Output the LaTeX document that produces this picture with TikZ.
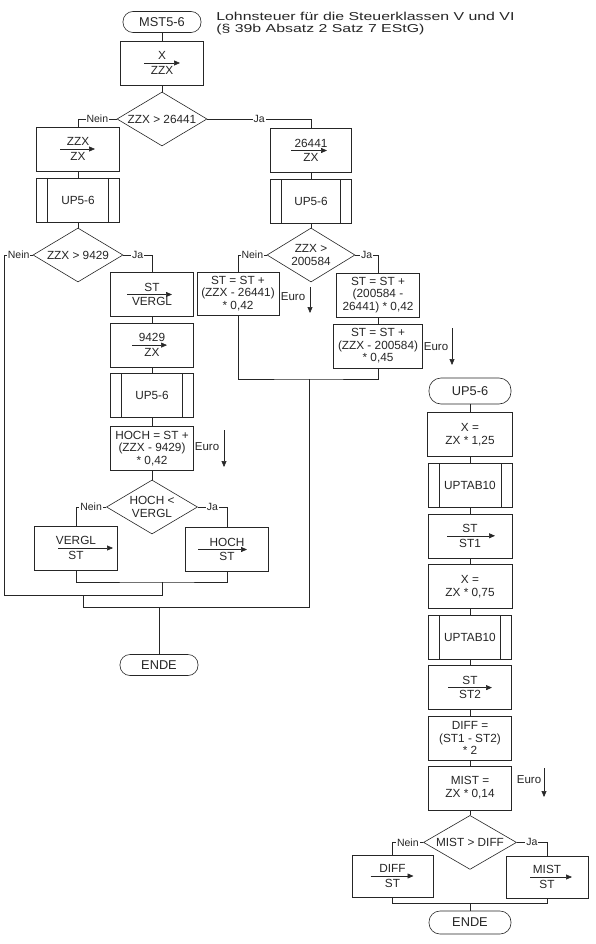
\documentclass[tikz,border=0pt]{standalone}
\usepackage{fontspec}
\setmainfont{Liberation Sans}
\newfontfamily\titlefont[FakeStretch=1.38]{Liberation Sans}
\usetikzlibrary{shapes.geometric, arrows.meta, positioning, calc}

\newcommand{\bxfont}{\fontsize{11.8}{12.6}\selectfont}

\begin{document}
\begin{tikzpicture}[
  x=1pt, y=-1pt, line width=0.6pt, color=black!85,
  term/.style={draw, rounded corners=10pt, minimum width=78pt, minimum height=21pt, inner sep=1pt, font=\fontsize{12.8}{14}\selectfont},
  proc/.style={draw, align=center, minimum width=83pt, minimum height=44pt, inner sep=2pt, font=\bxfont},
  sub/.style={proc, path picture={\draw ([xshift=11pt]path picture bounding box.north west) -- ([xshift=11pt]path picture bounding box.south west) ([xshift=-11pt]path picture bounding box.north east) -- ([xshift=-11pt]path picture bounding box.south east);}},
  assign/.style 2 args={proc, font=\fontsize{11.8}{14.5}\selectfont, path picture={\draw[-{Triangle[length=6pt,width=5pt]}] ([xshift=#1pt]path picture bounding box.center) -- ([xshift=#2pt]path picture bounding box.center);}},
  dec/.style={diamond, draw, aspect=1.67, minimum width=90pt, minimum height=54pt, inner sep=0pt, align=center, font=\bxfont},
  lbl/.style={fill=white, inner sep=1pt, font=\fontsize{10.5}{12}\selectfont},
  note/.style={inner sep=0pt, font=\fontsize{11.5}{13}\selectfont},
  euro/.style={-{Triangle[length=6pt,width=5pt]}}
]
  \path[fill=white] (0,0) rectangle (596,944);

  % main program
  \node[term] (start) at (162,22) {MST5-6};
  \node[anchor=north west, align=left, inner sep=0pt, font=\titlefont\fontsize{11.5}{11.8}\selectfont] (title) at (216,12) {Lohnsteuer für die Steuerklassen V und VI\\(§ 39b Absatz 2 Satz 7 EStG)};
  \node[assign={-18}{18}] (x1) at (162,63) {X\\ZZX};
  \node[dec] (d1) at (162,119) {ZZX > 26441};

  \node[assign={-18}{17}] (zzx) at (78,149) {ZZX\\ZX};
  \node[sub] (up1) at (78,200) {UP5-6};
  \node[dec] (d2) at (78,255) {ZZX > 9429};
  \node[assign={-25}{20}] (stv) at (152,294.5) {ST\\VERGL};
  \node[assign={-20}{15}, below=6pt of stv] (n9429) {9429\\ZX};
  \node[sub, below=6pt of n9429] (up2) {UP5-6};
  \node[proc, below=8pt of up2] (hoch) {HOCH = ST +\\(ZZX - 9429)\\* 0,42};
  \node[note] (eu1) at (207,447) {Euro};
  \coordinate (eu1a) at (224,430);
  \coordinate (eu1b) at (224,467);
  \node[dec, minimum width=91pt] (d3) at (152,507) {HOCH <\\VERGL};
  \node[assign={-18}{37}] (vst) at (76,548) {VERGL\\ST};
  \node[assign={-29}{20}] (hst) at (227,549.5) {HOCH\\ST};

  \node[assign={-20}{16}, minimum width=81pt] (r26441) at (311,150.5) {26441\\ZX};
  \node[sub, minimum width=81pt] (up3) at (311,201.5) {UP5-6};
  \node[dec, minimum width=88pt] (d4) at (311,255) {ZZX >\\200584};
  \node[proc, minimum width=82pt, minimum height=43pt] (stl) at (238,293.5) {ST = ST +\\(ZZX - 26441)\\* 0,42};
  \node[note] (eu2) at (293,297) {Euro};
  \coordinate (eu2a) at (310,287);
  \coordinate (eu2b) at (310,313);
  \node[proc] (str1) at (378,295) {ST = ST +\\(200584 -\\26441) * 0,42};
  \node[proc, minimum width=89pt] (str2) at (378,346) {ST = ST +\\(ZZX - 200584)\\* 0,45};
  \node[note] (eu3) at (436,347) {Euro};
  \coordinate (eu3a) at (452,328);
  \coordinate (eu3b) at (452,365);

  \node[term] (end1) at (159,665) {ENDE};

  \coordinate (j3) at (162,582);
  \coordinate (j2) at (83,595);
  \coordinate (j1) at (159,607);
  \coordinate (jr) at (309,379);

  % subroutine UP5-6
  \node[term, minimum width=82pt, minimum height=26pt, rounded corners=12pt] (up56) at (470,391) {UP5-6};
  \node[proc, minimum width=85pt, below=8pt of up56] (r1) {X =\\ZX * 1,25};
  \node[sub, minimum width=84pt, below=6pt of r1] (r2) {UPTAB10};
  \node[assign={-23}{25}, minimum width=84pt, below=6pt of r2] (r3) {ST\\ST1};
  \node[proc, minimum width=84pt, below=6pt of r3] (r4) {X =\\ZX * 0,75};
  \node[sub, below=6pt of r4] (r5) {UPTAB10};
  \node[assign={-22}{22}, below=6pt of r5] (r6) {ST\\ST2};
  \node[proc, below=6pt of r6] (r7) {DIFF =\\(ST1 - ST2)\\* 2};
  \node[proc, below=5pt of r7] (r8) {MIST =\\ZX * 0,14};
  \node[note] (eu4) at (529,780) {Euro};
  \coordinate (eu4a) at (544,768);
  \coordinate (eu4b) at (544,797);
  \node[dec, minimum width=93pt, below=5pt of r8] (d5) {MIST > DIFF};
  \node[assign={-22}{21}, minimum width=81pt, minimum height=42pt] (rn) at (392.5,876) {DIFF\\ST};
  \node[assign={-17}{25}, minimum width=82pt, minimum height=42pt] (rj) at (547,877) {MIST\\ST};
  \coordinate (j5) at (470,903);
  \node[term, minimum width=82pt, minimum height=23pt, rounded corners=11pt] (end2) at (470,922.5) {ENDE};

  \draw (start) -- (x1);
  \draw (x1) -- (d1);
  \draw (d1.west) -- node[lbl]{Nein} (d1.west -| zzx.north) -- (zzx.north);
  \draw (d1.east) -- node[lbl]{Ja} (d1.east -| r26441.north) -- (r26441.north);
  \draw (zzx) -- (up1);
  \draw (up1) -- (d2);
  \draw (d2.east) -- node[lbl]{Ja} (d2.east -| stv.north) -- (stv.north);
  \draw (d2.west) -- node[lbl]{Nein} ++(-28,0) |- (j3 |- j2) -- (j3);
  \draw (stv) -- (n9429);
  \draw (n9429) -- (up2);
  \draw (up2) -- (hoch);
  \draw (hoch) -- (d3);
  \draw[euro] (eu1a) -- (eu1b);
  \draw (d3.west) -- node[lbl]{Nein} (d3.west -| vst.north) -- (vst.north);
  \draw (d3.east) -- node[lbl]{Ja} (d3.east -| hst.north) -- (hst.north);
  \draw (vst.south) |- (j3) -| (hst.south);

  \draw (r26441) -- (up3);
  \draw (up3) -- (d4);
  \draw (d4.west) -- node[lbl]{Nein} (d4.west -| stl.north) -- (stl.north);
  \draw (d4.east) -- node[lbl]{Ja} (d4.east -| str1.north) -- (str1.north);
  \draw[euro] (eu2a) -- (eu2b);
  \draw (str1) -- (str2);
  \draw[euro] (eu3a) -- (eu3b);
  \draw (stl.south) |- (jr) -| (str2.south);

  \draw (j2) -- (j2 |- j1) -- (jr |- j1) -- (jr);
  \draw (j1) -- (end1);

  \draw (up56) -- (r1);
  \draw (r1) -- (r2);
  \draw (r2) -- (r3);
  \draw (r3) -- (r4);
  \draw (r4) -- (r5);
  \draw (r5) -- (r6);
  \draw (r6) -- (r7);
  \draw (r7) -- (r8);
  \draw (r8) -- (d5);
  \draw[euro] (eu4a) -- (eu4b);
  \draw (d5.west) -- node[lbl]{Nein} (d5.west -| rn.north) -- (rn.north);
  \draw (d5.east) -- node[lbl]{Ja} (d5.east -| rj.north) -- (rj.north);
  \draw (rn.south) |- (j5) -| (rj.south);
  \draw (j5) -- (end2);
\end{tikzpicture}
\end{document}
